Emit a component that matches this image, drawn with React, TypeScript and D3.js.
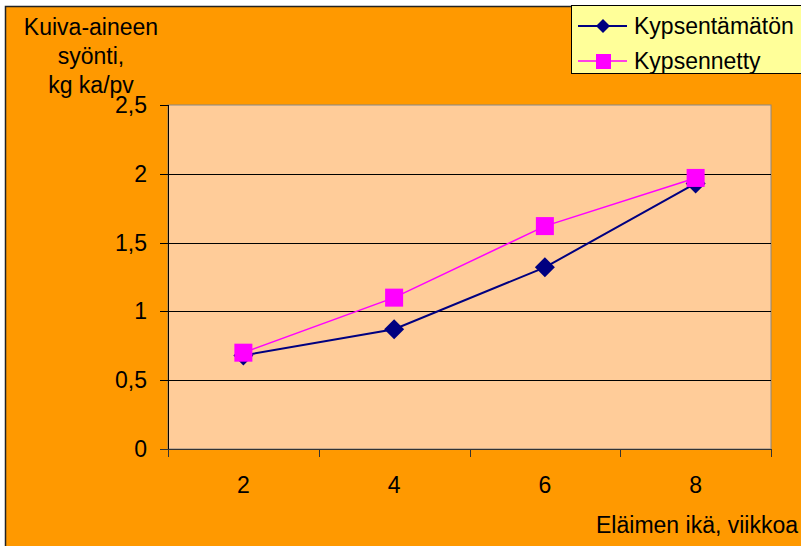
import React, { useEffect, useRef } from "react";
import * as d3 from "d3";

const categories = ["2", "4", "6", "8"];
const rawValues = [0.68, 0.87, 1.32, 1.93];
const cookedValues = [0.7, 1.1, 1.62, 1.97];
const yTicks = [0, 0.5, 1, 1.5, 2, 2.5];
const seriesNames = ["Kypsentämätön", "Kypsennetty"];
const yTitleLines = ["Kuiva-aineen", "syönti,", "kg ka/pv"];
const xTitle = "Eläimen ikä, viikkoa";

const W = 801;
const H = 546;
const FONT = "'Liberation Sans', Arial, sans-serif";
const FS = 23;

const App: React.FC = () => {
  const svgRef = useRef<SVGSVGElement | null>(null);

  useEffect(() => {
    if (!svgRef.current) return;
    const svg = d3.select(svgRef.current);
    svg.selectAll("*").remove();

    const plot = { left: 168, right: 771, top: 105, bottom: 449 };

    // chart background
    svg.append("rect").attr("width", W).attr("height", H).attr("fill", "#fff");
    svg
      .append("rect")
      .attr("x", 5.5)
      .attr("y", 6.5)
      .attr("width", W + 10)
      .attr("height", H + 10)
      .attr("fill", "#FF9900")
      .attr("stroke", "#222")
      .attr("stroke-width", 1.5);

    const x = d3
      .scaleBand<string>()
      .domain(categories)
      .range([plot.left, plot.right]);
    const y = d3.scaleLinear().domain([0, 2.5]).range([plot.bottom, plot.top]);

    // plot area
    svg
      .append("rect")
      .attr("x", plot.left)
      .attr("y", plot.top)
      .attr("width", plot.right - plot.left)
      .attr("height", plot.bottom - plot.top)
      .attr("fill", "#FFCC99")
      .attr("stroke", "#888")
      .attr("stroke-width", 1);

    // grid lines
    svg
      .append("g")
      .selectAll("line")
      .data(yTicks.filter((t) => t > 0 && t < 2.5))
      .enter()
      .append("line")
      .attr("x1", plot.left)
      .attr("x2", plot.right)
      .attr("y1", (d) => Math.round(y(d)) + 0.5)
      .attr("y2", (d) => Math.round(y(d)) + 0.5)
      .attr("stroke", "#000")
      .attr("stroke-width", 1);

    // y axis
    const yAxis = svg.append("g");
    yAxis
      .append("line")
      .attr("x1", plot.left + 0.5)
      .attr("x2", plot.left + 0.5)
      .attr("y1", plot.top)
      .attr("y2", plot.bottom)
      .attr("stroke", "#000");
    yAxis
      .selectAll("line.tick")
      .data(yTicks)
      .enter()
      .append("line")
      .attr("class", "tick")
      .attr("x1", plot.left - 8)
      .attr("x2", plot.left)
      .attr("y1", (d) => Math.round(y(d)) + 0.5)
      .attr("y2", (d) => Math.round(y(d)) + 0.5)
      .attr("stroke", "#000");
    yAxis
      .selectAll("text")
      .data(yTicks)
      .enter()
      .append("text")
      .attr("x", plot.left - 21)
      .attr("y", (d) => y(d) + 8)
      .attr("text-anchor", "end")
      .attr("font-family", FONT)
      .attr("font-size", FS)
      .text((d) => d3.format("")(d).replace(".", ","));

    // x axis
    const xAxis = svg.append("g");
    xAxis
      .append("line")
      .attr("x1", plot.left - 8)
      .attr("x2", plot.right)
      .attr("y1", plot.bottom + 0.5)
      .attr("y2", plot.bottom + 0.5)
      .attr("stroke", "#333");
    const bounds = [...categories.map((c) => x(c) as number), plot.right];
    xAxis
      .selectAll("line.tick")
      .data(bounds)
      .enter()
      .append("line")
      .attr("class", "tick")
      .attr("x1", (d) => Math.round(d) + 0.5)
      .attr("x2", (d) => Math.round(d) + 0.5)
      .attr("y1", plot.bottom)
      .attr("y2", plot.bottom + 8)
      .attr("stroke", "#333");
    xAxis
      .selectAll("text")
      .data(categories)
      .enter()
      .append("text")
      .attr("x", (d) => (x(d) as number) + x.bandwidth() / 2)
      .attr("y", 493)
      .attr("text-anchor", "middle")
      .attr("font-family", FONT)
      .attr("font-size", FS)
      .text((d) => d);

    // titles
    svg
      .append("text")
      .attr("x", 798)
      .attr("y", 533)
      .attr("text-anchor", "end")
      .attr("font-family", FONT)
      .attr("font-size", FS)
      .text(xTitle);
    svg
      .append("g")
      .selectAll("text")
      .data(yTitleLines)
      .enter()
      .append("text")
      .attr("x", 91)
      .attr("y", (_, i) => 35 + i * 29)
      .attr("text-anchor", "middle")
      .attr("font-family", FONT)
      .attr("font-size", FS)
      .text((d) => d);

    const cx = (i: number) => (x(categories[i]) as number) + x.bandwidth() / 2;
    const line = d3
      .line<number>()
      .x((_, i) => cx(i))
      .y((d) => y(d));

    const diamond = (s: number) =>
      `M0,${-s}L${s},0L0,${s}L${-s},0Z`;

    // raw series
    svg
      .append("path")
      .attr("d", line(rawValues) as string)
      .attr("fill", "none")
      .attr("stroke", "#000080")
      .attr("stroke-width", 2);
    svg
      .append("g")
      .selectAll("path")
      .data(rawValues)
      .enter()
      .append("path")
      .attr("transform", (d, i) => `translate(${cx(i)},${y(d)})`)
      .attr("d", diamond(10))
      .attr("fill", "#000080");

    // cooked series
    svg
      .append("path")
      .attr("d", line(cookedValues) as string)
      .attr("fill", "none")
      .attr("stroke", "#FF00FF")
      .attr("stroke-width", 1.5);
    svg
      .append("g")
      .selectAll("rect")
      .data(cookedValues)
      .enter()
      .append("rect")
      .attr("x", (_, i) => cx(i) - 9)
      .attr("y", (d) => y(d) - 9)
      .attr("width", 18)
      .attr("height", 18)
      .attr("fill", "#FF00FF");

    // legend
    const lg = svg.append("g");
    lg.append("rect")
      .attr("x", 571.5)
      .attr("y", 5.5)
      .attr("width", 240)
      .attr("height", 68)
      .attr("fill", "#FFFF99")
      .attr("stroke", "#000")
      .attr("stroke-width", 1);
    const rows = lg
      .selectAll("g")
      .data(seriesNames)
      .enter()
      .append("g")
      .attr("transform", (_, i) => `translate(0,${26 + i * 35})`);
    rows
      .append("line")
      .attr("x1", 578)
      .attr("x2", 627)
      .attr("y1", 0)
      .attr("y2", 0)
      .attr("stroke", (_, i) => (i === 0 ? "#000080" : "#FF00FF"))
      .attr("stroke-width", (_, i) => (i === 0 ? 2 : 1.5));
    rows.each(function (_, i) {
      const g = d3.select(this);
      if (i === 0) {
        g.append("path")
          .attr("transform", "translate(603,0)")
          .attr("d", diamond(7))
          .attr("fill", "#000080");
      } else {
        g.append("rect")
          .attr("x", 596)
          .attr("y", -7)
          .attr("width", 15)
          .attr("height", 15)
          .attr("fill", "#FF00FF");
      }
    });
    rows
      .append("text")
      .attr("x", 634)
      .attr("y", 8)
      .attr("font-family", FONT)
      .attr("font-size", FS)
      .text((d) => d);
  }, []);

  return (
    <div style={{ position: "fixed", left: 0, top: 0, width: W, height: H }}>
      <svg ref={svgRef} width={W} height={H} style={{ display: "block" }} />
    </div>
  );
};

export default App;
